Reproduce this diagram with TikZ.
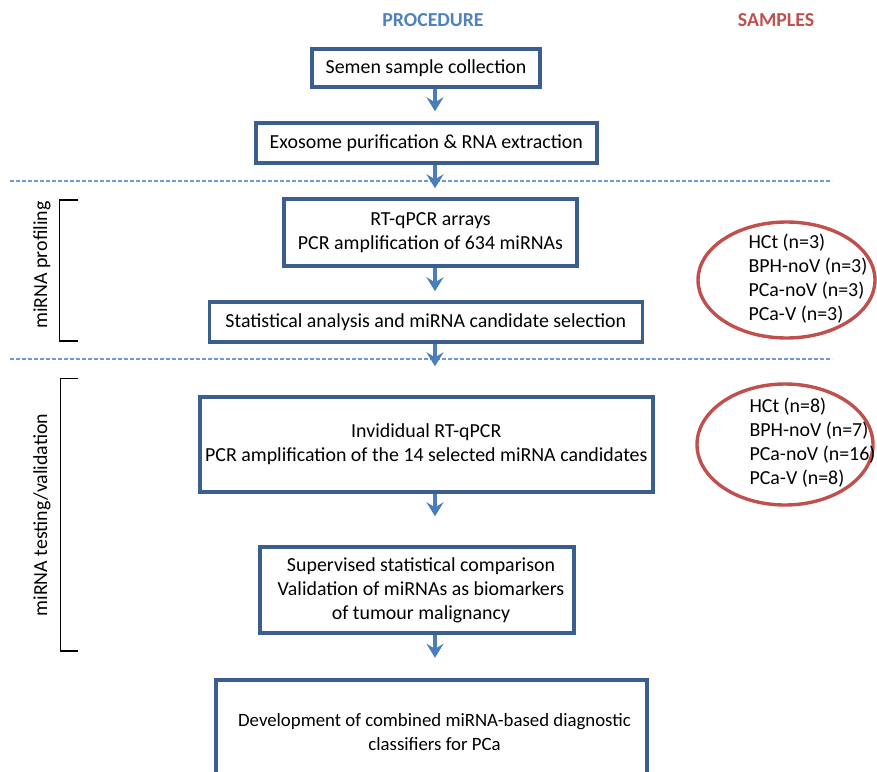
\documentclass[tikz,border=0pt]{standalone}
\usepackage{fontspec}
\setmainfont{Carlito}
\usetikzlibrary{arrows.meta,positioning,shapes.geometric}
\definecolor{boxblue}{HTML}{3A5F8E}
\definecolor{arrblue}{HTML}{4A7EBB}
\definecolor{dashblue}{HTML}{6F98CC}
\definecolor{procblue}{HTML}{4F81BD}
\definecolor{samred}{HTML}{C0504D}
\tikzset{
  txt/.style={font=\fontsize{19.9}{24}\selectfont, text=black},
  stepbox/.style={draw=boxblue, line width=3.4pt, fill=white, txt, align=center, inner sep=0pt},
  arr/.style={draw=arrblue, line width=3.4pt, -{Stealth[length=14pt,width=17pt,inset=5pt]}},
  sepline/.style={draw=dashblue, line width=1.1pt, dash pattern=on 4pt off 2pt},
  bracket/.style={draw=black, line width=1.6pt},
  samp/.style={draw=samred, line width=3.4pt, ellipse, inner sep=0pt},
  head/.style={font=\fontsize{19.8}{23}\bfseries\selectfont}
}
\begin{document}
\begin{tikzpicture}[x=1pt,y=-1pt]
\useasboundingbox (0,0) rectangle (877,771);
\clip (0,0) rectangle (877,771);
% headers
\node[head, text=procblue] (proc) at (433,20) {PROCEDURE};
\node[head, text=samred] (samp) at (776,20) {SAMPLES};
% arrow axis
\coordinate (ax) at (435,0);
% separators
\coordinate (s1l) at (10,181); \coordinate (s1r) at (832,181);
\coordinate (s2l) at (10,359); \coordinate (s2r) at (832,359);
\draw[sepline] (s1l) -- (s1r);
\draw[sepline] (s2l) -- (s2r);
% boxes
\node[stepbox, minimum width=228pt, minimum height=38pt] (b1) at (426,68) {Semen sample collection};
\node[stepbox, minimum width=341pt, minimum height=40pt] (b2) at (426.3,143) {Exosome purification \& RNA extraction};
\node[stepbox, minimum width=293pt, minimum height=67pt] (b3) at (430.5,232.5) {RT-qPCR arrays\\PCR amplification of 634 miRNAs};
\node[stepbox, minimum width=433pt, minimum height=40pt] (b4) at (425.8,322) {Statistical analysis and miRNA candidate selection};
\node[stepbox, minimum width=453pt, minimum height=95pt] (b5) at (426.3,444.5) {Invididual RT-qPCR\\PCR amplification of the 14 selected miRNA candidates};
\node[stepbox, minimum width=314pt, minimum height=86pt] (b6) at (417,590) {};
\node[txt, align=center] (b6t) at (421,590) {Supervised statistical comparison\\Validation of miRNAs as biomarkers\\of tumour malignancy};
\node[stepbox, line width=4.4pt, minimum width=431pt, minimum height=130pt] (b7) at (431.5,745) {};
\node[txt, font=\fontsize{18.8}{24}\selectfont, align=center] (b7t) at (434.5,732) {Development of combined miRNA-based diagnostic\\classifiers for PCa};
% arrows
\draw[arr] (b1.south -| ax) -- ([yshift=10pt]b2.north -| ax);
\draw[arr] (b2.south -| ax) -- ([yshift=9pt]b3.north -| ax);
\draw[arr] (b3.south -| ax) -- ([yshift=9pt]b4.north -| ax);
\draw[arr] (b4.south -| ax) -- ([yshift=29pt]b5.north -| ax);
\draw[arr] (b5.south -| ax) -- ([yshift=29pt]b6.north -| ax);
\draw[arr] (b6.south -| ax) -- ([yshift=20pt]b7.north -| ax);
% brackets
\coordinate (k1t) at (78,200); \coordinate (k1b) at (78,341);
\draw[bracket] (k1t) -- (59.5,200) -- (59.5,341) -- (k1b);
\node[txt, rotate=90] (l1) at (42,265) {miRNA profiling};
\coordinate (k2t) at (78,378.5); \coordinate (k2b) at (78,651);
\draw[bracket] (k2t) -- (60.5,378.5) -- (60.5,651) -- (k2b);
\node[txt, rotate=90] (l2) at (42,515) {miRNA testing/validation};
% sample ellipses
\node[samp, minimum width=177pt, minimum height=116pt] (c1) at (786.5,280) {};
\node[txt, align=left, anchor=west] (e1) at (745,278.5) {HCt (n=3)\\BPH-noV (n=3)\\PCa-noV (n=3)\\PCa-V (n=3)};
\node[samp, minimum width=176pt, minimum height=121pt] (c2) at (785,444.5) {};
\node[txt, align=left, anchor=west] (e2) at (746,443) {HCt (n=8)\\BPH-noV (n=7)\\PCa-noV (n=16)\\PCa-V (n=8)};
\end{tikzpicture}
\end{document}
